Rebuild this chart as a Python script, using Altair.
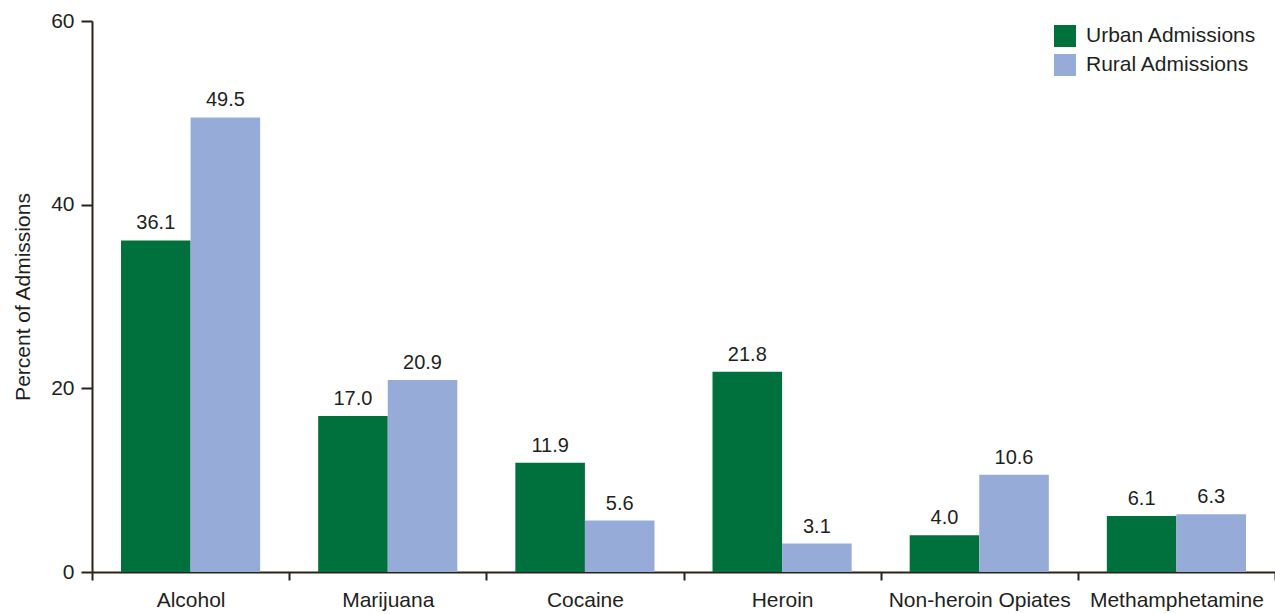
import altair as alt
import pandas as pd

categories = ["Alcohol", "Marijuana", "Cocaine", "Heroin", "Non-heroin Opiates", "Methamphetamine"]
urban = [36.1, 17.0, 11.9, 21.8, 4.0, 6.1]
rural = [49.5, 20.9, 5.6, 3.1, 10.6, 6.3]
series = ["Urban Admissions", "Rural Admissions"]
colors = ["#00703c", "#97abd8"]
y_ticks = [0, 20, 40, 60]

rows = []
for c, u, r in zip(categories, urban, rural):
    rows.append({"cat": c, "series": series[0], "value": u, "label": f"{u:.1f}"})
    rows.append({"cat": c, "series": series[1], "value": r, "label": f"{r:.1f}"})
df = pd.DataFrame(rows)

FONT = "Liberation Sans"
INK = "#231f20"
AX = "#2b2318"

base = alt.Chart(df).encode(
    x=alt.X(
        "cat:N",
        sort=categories,
        scale=alt.Scale(paddingInner=0, paddingOuter=0),
        axis=alt.Axis(
            title=None,
            tickBand="extent",
            labelAngle=0,
            tickSize=8,
            labelPadding=9,
            labelLimit=400,
        ),
    ),
    xOffset=alt.XOffset(
        "series:N", sort=series, scale=alt.Scale(paddingInner=0, paddingOuter=0.417)
    ),
    y=alt.Y(
        "value:Q",
        scale=alt.Scale(domain=[0, 60], nice=False),
        axis=alt.Axis(
            values=y_ticks,
            title="Percent of Admissions",
            grid=False,
            tickSize=11,
            labelPadding=7,
            titlePadding=17,
        ),
    ),
)

bars = base.mark_bar().encode(
    color=alt.Color(
        "series:N",
        sort=series,
        scale=alt.Scale(domain=series, range=colors),
        legend=alt.Legend(
            title=None,
            orient="none",
            legendX=962,
            legendY=4,
            symbolType="square",
            symbolSize=484,
            symbolStrokeWidth=0,
            labelFontSize=21,
            labelFont=FONT,
            labelColor=INK,
            labelOffset=10,
            labelLimit=400,
            rowPadding=7,
            padding=0,
        ),
    )
)

text = base.mark_text(
    dy=-11, baseline="alphabetic", fontSize=20, font=FONT, color=INK
).encode(text="label:N")

chart = (
    alt.layer(bars, text)
    .properties(
        width=1183,
        height=551,
        autosize=alt.AutoSizeParams(type="none"),
        padding={"left": 92, "top": 21, "right": 0, "bottom": 42},
    )
    .configure_view(stroke=None)
    .configure_axis(
        domainColor=AX,
        tickColor=AX,
        domainWidth=2,
        tickWidth=2,
        labelColor=INK,
        labelFont=FONT,
        labelFontSize=21,
        titleColor=INK,
        titleFont=FONT,
        titleFontSize=21,
        titleFontWeight="normal",
    )
)

chart.save("out.html", embed_options={"renderer": "svg", "actions": False})
